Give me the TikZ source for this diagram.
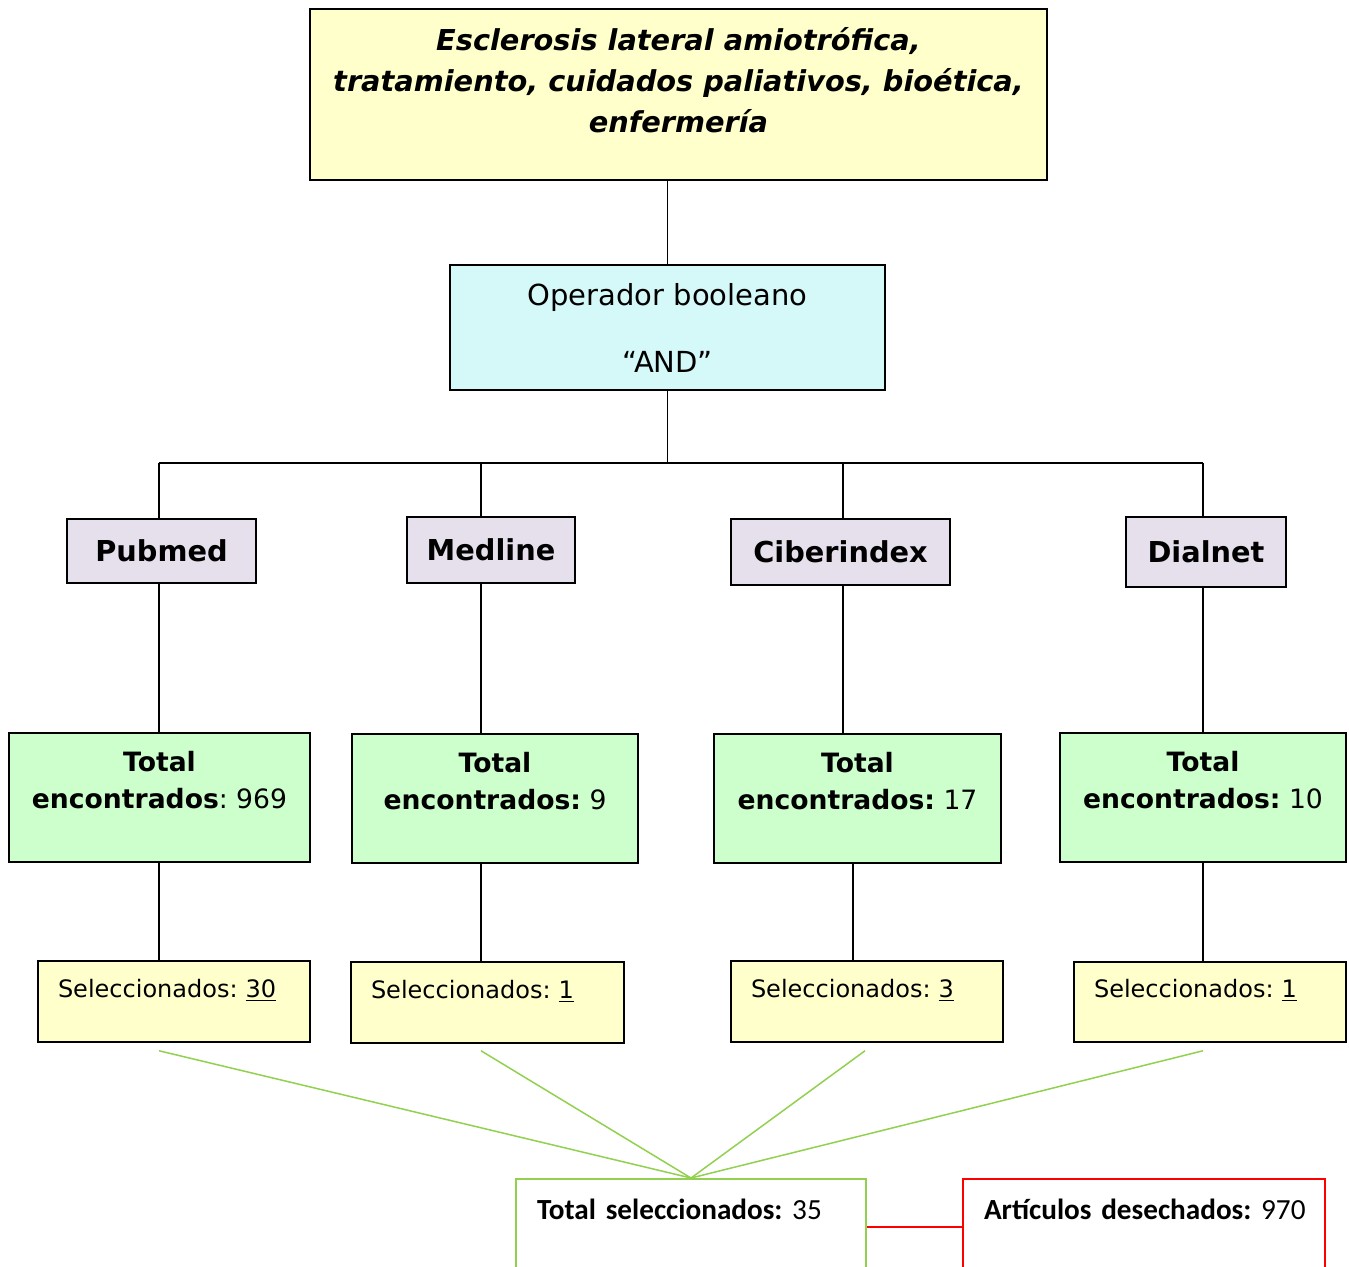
\documentclass[tikz,border=0pt]{standalone}
\usepackage{fontspec}
\setmainfont{DejaVu Sans}
\newfontfamily\calibri{Carlito}
\usetikzlibrary{positioning, calc}
\definecolor{colour_yellow}{HTML}{FFFFCC}
\definecolor{colour_cyan}{HTML}{D5F8F8}
\definecolor{colour_lilac}{HTML}{E5E0EC}
\definecolor{colour_green}{HTML}{CCFFCC}
\definecolor{colour_lime}{HTML}{92D050}
\colorlet{colour_red}{red}
\frenchspacing

\begin{document}
\begin{tikzpicture}
   [
      x=0.5pt, y=-0.5pt,
      box/.style={rectangle, draw, line width=0.75pt, inner sep=0pt, align=center},
      keywords/.style={box, fill=colour_yellow, font=\bfseries\itshape\fontsize{14.4}{20.5}\selectfont, text depth=14.5pt},
      operator/.style={box, fill=colour_cyan, font=\fontsize{14.5}{17.4}\selectfont},
      database/.style={box, fill=colour_lilac, font=\bfseries\fontsize{14.4}{17}\selectfont},
      found/.style={box, fill=colour_green, font=\fontsize{13.3}{18.5}\selectfont, text depth=17.4pt},
      chosen/.style={box, fill=colour_yellow, font=\fontsize{12}{14}\selectfont, align=left, inner xsep=10pt, text height=9.5pt, text depth=13.8pt},
      summary/.style={box, line width=0.8pt, align=left, inner xsep=10.5pt, inner ysep=9.2pt, text height=11pt, text depth=80pt, font=\calibri\fontsize{14.6}{17}\selectfont},
      link/.style={line width=0.6pt, black},
      green link/.style={line width=0.75pt, colour_lime},
   ]

   \clip (0,0) rectangle (1349,1266);

   % =======================================================
   % Search terms and operator
   % =======================================================

   \node[keywords, minimum width=368.5pt, minimum height=85.5pt] (kw) at (678.5,94.5)
      {Esclerosis lateral amiotrófica,\\tratamiento, cuidados paliativos, bioética,\\enfermería};
   \node[operator, minimum width=217.5pt, minimum height=62.5pt] (ops) at (667.5,327.5)
      {Operador booleano\\[16.1pt]“AND”};

   \draw[link] (kw.south -| ops.north) -- (ops.north);

   % =======================================================
   % Databases
   % =======================================================

   \node[database, minimum width=94.5pt, minimum height=32pt] (pubmed) at (161.5,551) {Pubmed};
   \node[database, minimum width=84pt, minimum height=33pt] (medline) at (491,550) {Medline};
   \node[database, minimum width=109.5pt, minimum height=33pt] (ciber) at (840.5,552) {Ciberindex};
   \node[database, minimum width=80pt, minimum height=35pt] (dialnet) at (1206,552) {Dialnet};

   % Bus
   \coordinate (c1) at (159,463);
   \coordinate (c2) at (481,463);
   \coordinate (c3) at (843,463);
   \coordinate (c3b) at (853,863);
   \coordinate (c4) at (1203,463);

   \draw[link] (ops.south) -- (ops.south |- c1);
   \draw[link] (c1) -- (c4);
   \draw[link] (c1) -- (c1 |- pubmed.north);
   \draw[link] (c2) -- (c2 |- medline.north);
   \draw[link] (c3) -- (c3 |- ciber.north);
   \draw[link] (c4) -- (c4 |- dialnet.north);

   % =======================================================
   % Results found
   % =======================================================

   \node[found, minimum width=150.5pt, minimum height=64.5pt] (tot1) at (159.5,797.5)
      {\textbf{Total}\\\textbf{encontrados}: 969};
   \node[found, minimum width=143pt, minimum height=64.5pt] (tot2) at (495,798.5)
      {\textbf{Total}\\\textbf{encontrados:} 9};
   \node[found, minimum width=143.5pt, minimum height=64.5pt] (tot3) at (857.5,798.5)
      {\textbf{Total}\\\textbf{encontrados:} 17};
   \node[found, minimum width=143pt, minimum height=64.5pt] (tot4) at (1203,797.5)
      {\textbf{Total}\\\textbf{encontrados:} 10};

   \draw[link] (pubmed.south -| c1) -- (tot1.north -| c1);
   \draw[link] (medline.south -| c2) -- (tot2.north -| c2);
   \draw[link] (ciber.south -| c3) -- (tot3.north -| c3);
   \draw[link] (dialnet.south -| c4) -- (tot4.north -| c4);

   % =======================================================
   % Selected
   % =======================================================

   \node[chosen, text width=116pt, minimum height=40.5pt] (sel1) at (174,1001.5) {Seleccionados: \underline{30}};
   \node[chosen, text width=116.5pt, minimum height=40.5pt] (sel2) at (487.5,1002.5) {Seleccionados: \underline{1}};
   \node[chosen, text width=116pt, minimum height=40.5pt] (sel3) at (867,1001.5) {Seleccionados: \underline{3}};
   \node[chosen, text width=116pt, minimum height=40pt] (sel4) at (1210,1002) {Seleccionados: \underline{1}};

   \draw[link] (tot1.south -| c1) -- (sel1.north -| c1);
   \draw[link] (tot2.south -| c2) -- (sel2.north -| c2);
   \draw[link] (tot3.south -| c3b) -- (sel3.north -| c3b);
   \draw[link] (tot4.south -| c4) -- (sel4.north -| c4);

   % =======================================================
   % Totals
   % =======================================================

   \node[summary, draw=colour_lime, text width=154pt, anchor=north] (totsel) at (691,1178)
      {\mbox{\textbf{Total seleccionados:} 35}};
   \node[summary, draw=colour_red, text width=160pt, anchor=north] (desech) at (1144,1178)
      {\mbox{\textbf{Artículos desechados:} 970}};

   \draw[green link] ($(sel1.south -| c1)+(0,8)$) -- (totsel.north);
   \draw[green link] ($(sel2.south -| c2)+(0,7)$) -- (totsel.north);
   \draw[green link] ($(sel3.south -| 865,0)+(0,8)$) -- (totsel.north);
   \draw[green link] ($(sel4.south -| c4)+(0,8)$) -- (totsel.north);

   \draw[line width=0.8pt, colour_red] ($(totsel.north east)+(0,49)$) -- ($(desech.north west)+(0,49)$);

\end{tikzpicture}
\end{document}
